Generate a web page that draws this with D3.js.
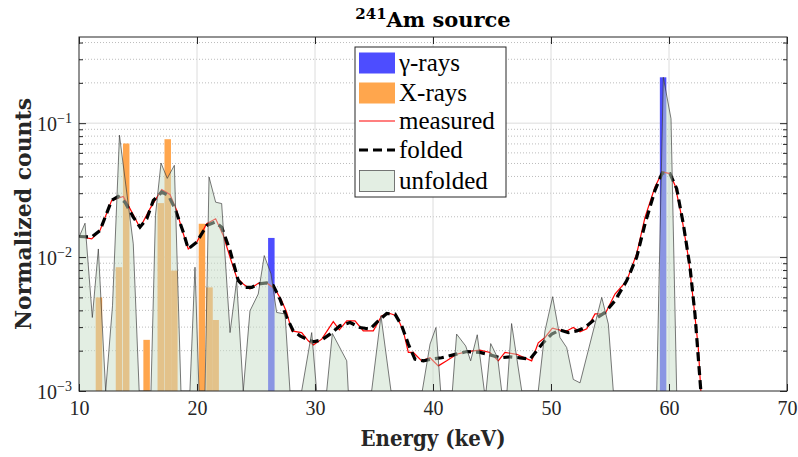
<!DOCTYPE html>
<html>
<head>
<meta charset="utf-8">
<title>241Am source</title>
<script src="https://d3js.org/d3.v7.min.js"></script>
<style>
  body { margin: 0; background: #fff; }
  svg { display: block; }
  .tick text { font-family: "Liberation Serif", serif; fill: #262626; }
</style>
</head>
<body>
<div id="chart"></div>
<script>
// unfolded spectrum (values of 1e-3 sit on the bottom of the plot)
var unfoldedE = [10.00, 10.51, 11.13, 11.64, 12.26, 12.84, 13.43, 14.60, 15.10, 16.10, 16.48, 16.95, 17.48, 18.08, 18.64,
  19.40, 19.83, 20.17, 20.68, 21.02, 21.58, 22.09, 22.80, 23.36, 23.92, 24.49, 25.19, 25.70, 26.27, 26.75, 27.46, 27.88,
  28.87, 29.72, 30.14, 30.99, 31.47, 32.69, 32.82, 34.80, 35.59, 36.44, 39.09, 39.75, 40.25, 40.65, 41.64, 42.00, 42.77,
  43.19, 43.75, 44.35, 44.50, 44.89, 45.48, 45.82, 46.27, 46.66, 47.52, 48.92, 49.49, 50.14, 50.76, 51.33, 51.89, 52.46,
  54.30, 54.86, 55.28, 58.96, 59.52, 60.17, 60.65];
var unfoldedV = [0.01406, 0.0179, 0.00354, 0.0115, 0.001, 0.00433, 0.0813, 0.01256, 0.001, 0.001, 0.0205, 0.0504, 0.0387, 0.0484, 0.001,
  0.001, 0.0084, 0.001, 0.001, 0.0396, 0.0257, 0.0251, 0.00273, 0.00667, 0.001, 0.00397, 0.0053, 0.01026, 0.0075, 0.00386, 0.00376, 0.001,
  0.001, 0.00273, 0.001, 0.001, 0.00269, 0.00168, 0.001, 0.001, 0.00365, 0.001, 0.001, 0.00224, 0.00298, 0.001, 0.001, 0.00266, 0.00217,
  0.00168, 0.00263, 0.001, 0.001, 0.00226, 0.00177, 0.001, 0.001, 0.00319, 0.001, 0.001, 0.00281, 0.00506, 0.00251, 0.00211, 0.00122, 0.00115,
  0.0050, 0.00316, 0.001, 0.001, 0.22, 0.108, 0.001];

// measured spectrum
var measuredE = [10.00, 11.08, 11.78, 12.77, 13.75, 14.32, 15.17, 16.02, 17.01, 17.71, 18.28, 18.70, 19.26, 19.97, 20.82,
  21.58, 22.23, 22.80, 23.36, 23.92, 24.49, 25.19, 25.91, 26.61, 27.18, 27.60, 28.03, 28.87, 29.43, 29.86, 30.57, 31.55,
  32.06, 32.69, 33.39, 34.09, 34.94, 35.65, 36.36, 36.92, 37.48, 37.91, 38.33, 39.04, 39.75, 40.45, 41.16, 42.01, 42.86,
  43.98, 44.83, 45.53, 46.10, 47.09, 48.36, 48.92, 49.49, 50.11, 50.76, 51.33, 51.89, 52.46, 53.03, 53.73, 54.58, 55.42,
  56.42, 57.26, 57.97, 58.81, 59.43, 60.08, 60.51, 61.08, 61.64, 62.06, 62.48, 62.71];
var measuredV = [0.01425, 0.01368, 0.0158, 0.0265, 0.0284, 0.0230, 0.01656, 0.0230, 0.0319, 0.0294, 0.0223, 0.01627, 0.0115, 0.0129, 0.01774,
  0.0193, 0.01449, 0.00997, 0.00706, 0.0063, 0.00578, 0.00637, 0.00641, 0.00578, 0.00472, 0.00386, 0.00281, 0.00273, 0.00237, 0.00221, 0.00244, 0.0033,
  0.00286, 0.00334, 0.00334, 0.00281, 0.00281, 0.00365, 0.00379, 0.00365, 0.00281, 0.00194, 0.00194, 0.00168, 0.00177, 0.00154, 0.00168, 0.00188, 0.00197,
  0.00202, 0.00194, 0.00168, 0.00194, 0.00188, 0.00168, 0.00229, 0.00251, 0.00295, 0.00285, 0.00281, 0.00298, 0.00277, 0.00291, 0.00376, 0.00376, 0.0053,
  0.00667, 0.01057, 0.0199, 0.0334, 0.0432, 0.042, 0.0343, 0.0199, 0.00997, 0.00472, 0.00211, 0.00097];

// folded spectrum
var foldedE = [10.00, 11.08, 11.78, 12.77, 13.33, 13.90, 14.60, 15.17, 15.74, 16.30, 17.01, 17.57, 18.14, 18.84, 19.26,
  19.97, 20.82, 21.53, 22.09, 22.80, 23.50, 24.07, 24.64, 25.19, 25.91, 26.47, 27.03, 27.60, 28.16, 28.73, 29.30, 29.86,
  30.57, 31.27, 32.12, 32.97, 33.81, 34.66, 35.36, 36.08, 36.78, 37.35, 37.91, 38.47, 39.18, 39.89, 40.73, 41.72, 42.86,
  43.98, 44.83, 45.68, 46.53, 47.37, 48.22, 48.79, 49.35, 50.06, 50.76, 51.47, 52.18, 52.88, 53.73, 54.58, 55.42, 56.42,
  57.26, 57.97, 58.81, 59.43, 60.08, 60.65, 61.21, 61.78, 62.20, 62.71];
var foldedV = [0.01425, 0.0141, 0.0158, 0.0265, 0.0284, 0.0257, 0.0199, 0.01673, 0.0193, 0.0265, 0.0306, 0.0289, 0.0230, 0.01534, 0.0115,
  0.0129, 0.01722, 0.01823, 0.01673, 0.0112, 0.00667, 0.00594, 0.00594, 0.0063, 0.00641, 0.00612, 0.00486, 0.00354, 0.00281, 0.00258, 0.00244, 0.00233,
  0.00241, 0.00266, 0.00307, 0.00325, 0.00298, 0.0029, 0.00334, 0.00379, 0.00375, 0.00307, 0.00224, 0.00173, 0.00168, 0.00173, 0.00177, 0.00186, 0.00197,
  0.00194, 0.00186, 0.00177, 0.0018, 0.00177, 0.00173, 0.0020, 0.0023, 0.00266, 0.00285, 0.00273, 0.00281, 0.00298, 0.00344, 0.00386, 0.00472, 0.00667,
  0.00997, 0.01774, 0.0315, 0.0425, 0.042, 0.0324, 0.01774, 0.0084, 0.00375, 0.00097];

// emission lines
var gammaE = [26.3, 59.5];
var gammaV = [0.0139, 0.22];
var xrayE = [11.69, 13.39, 14.0, 15.73, 16.93, 17.52, 18.08, 20.42, 21.06, 21.58];
var xrayV = [0.0050, 0.0084, 0.0705, 0.00241, 0.0253, 0.0759, 0.00793, 0.01774, 0.00594, 0.00339];
var barWidth = 0.55; // keV

var xTicks = [10, 20, 30, 40, 50, 60, 70];
var yTicks = [1e-3, 1e-2, 1e-1];
var yTickExp = ["\u22123", "\u22122", "\u22121"];
var legendLabels = ["\u03b3-rays", "X-rays", "measured", "folded", "unfolded"];

var width = 798, height = 457;
var margin = {top: 37, right: 11, bottom: 66, left: 79};
var x0 = margin.left, x1 = width - margin.right, y0 = height - margin.bottom, y1 = margin.top;

var x = d3.scaleLinear().domain([10, 70]).range([x0, x1]);
var y = d3.scaleLog().domain([1e-3, 0.44]).range([y0, y1]);

var svg = d3.select("#chart").append("svg")
  .attr("width", width)
  .attr("height", height);

svg.append("defs").append("clipPath").attr("id", "clip")
  .append("rect").attr("x", x0).attr("y", y1).attr("width", x1 - x0).attr("height", y0 - y1);

// minor and major grid
var minorY = y.ticks().filter(function (d) {
  var m = Math.round(d / Math.pow(10, Math.floor(Math.log10(d) + 1e-9)));
  return m !== 1;
});
svg.append("g").selectAll("line").data(minorY).enter().append("line")
  .attr("x1", x0).attr("x2", x1)
  .attr("y1", function (d) { return y(d); }).attr("y2", function (d) { return y(d); })
  .attr("stroke", "#bcbcbc").attr("stroke-width", 1).attr("stroke-dasharray", "1,2");
svg.append("g").selectAll("line").data(yTicks.slice(1)).enter().append("line")
  .attr("x1", x0).attr("x2", x1)
  .attr("y1", function (d) { return y(d); }).attr("y2", function (d) { return y(d); })
  .attr("stroke", "#dcdcdc").attr("stroke-width", 1);
svg.append("g").selectAll("line").data(xTicks.slice(1, -1)).enter().append("line")
  .attr("y1", y1).attr("y2", y0)
  .attr("x1", function (d) { return x(d); }).attr("x2", function (d) { return x(d); })
  .attr("stroke", "#dcdcdc").attr("stroke-width", 1);

var plot = svg.append("g").attr("clip-path", "url(#clip)");

// bars
function bars(E, V, color) {
  plot.append("g").selectAll("rect").data(E).enter().append("rect")
    .attr("x", function (d) { return x(d - barWidth / 2); })
    .attr("width", function (d) { return x(d + barWidth / 2) - x(d - barWidth / 2); })
    .attr("y", function (d, i) { return y(V[i]); })
    .attr("height", function (d, i) { return y0 - y(V[i]); })
    .attr("fill", color);
}
bars(xrayE, xrayV, "#ffa64d");
bars(gammaE, gammaV, "#4d4dff");

var line = d3.line()
  .x(function (d) { return x(d[0]); })
  .y(function (d) { return y(d[1]); });

plot.append("path")
  .attr("d", line(d3.zip(measuredE, measuredV)))
  .attr("fill", "none").attr("stroke", "#ff0000").attr("stroke-width", 1.2);

plot.append("path")
  .attr("d", line(d3.zip(foldedE, foldedV)))
  .attr("fill", "none").attr("stroke", "#000").attr("stroke-width", 3.2)
  .attr("stroke-dasharray", "9,5");

// unfolded on top, semi transparent
var unfolded = d3.zip(unfoldedE, unfoldedV);
var area = d3.area()
  .x(function (d) { return x(d[0]); })
  .y0(y0)
  .y1(function (d) { return y(Math.max(d[1], 1e-3)); });
plot.append("path")
  .attr("d", area(unfolded))
  .attr("fill", "rgb(200,222,200)").attr("fill-opacity", 0.5);
plot.append("path")
  .attr("d", line(unfolded.map(function (d) { return [d[0], Math.max(d[1], 1e-3)]; })))
  .attr("fill", "none").attr("stroke", "#3a3a3a").attr("stroke-opacity", 0.85).attr("stroke-width", 0.8);

// axes
var axisColor = "#262626";
function styleAxis(g) {
  g.select(".domain").remove();
  g.selectAll(".tick line").attr("stroke", axisColor);
}
svg.append("g").attr("transform", "translate(0," + y0 + ")")
  .call(d3.axisBottom(x).tickValues(xTicks).tickSize(-7).tickPadding(10).tickFormat(d3.format("d")))
  .call(styleAxis)
  .selectAll("text").attr("font-size", 20);
svg.append("g").attr("transform", "translate(0," + y1 + ")")
  .call(d3.axisTop(x).tickValues(xTicks).tickSize(-7).tickFormat(""))
  .call(styleAxis);

[[d3.axisLeft, x0], [d3.axisRight, x1]].forEach(function (a) {
  svg.append("g").attr("transform", "translate(" + a[1] + ",0)")
    .call(a[0](y).tickValues(yTicks).tickSize(-7).tickFormat(""))
    .call(styleAxis);
  svg.append("g").attr("transform", "translate(" + a[1] + ",0)")
    .call(a[0](y).tickValues(minorY).tickSize(-4).tickFormat(""))
    .call(styleAxis);
});

// y tick labels with exponents
var yl = svg.append("g").selectAll("text").data(yTicks).enter().append("text")
  .attr("x", x0 - 7)
  .attr("y", function (d) { return y(d) + 8; })
  .attr("text-anchor", "end")
  .attr("font-family", "Liberation Serif, serif")
  .attr("fill", axisColor);
yl.append("tspan").attr("font-size", 20).text("10");
yl.append("tspan").attr("font-size", 14).attr("dy", -8)
  .text(function (d, i) { return yTickExp[i]; });

svg.append("rect")
  .attr("x", x0).attr("y", y1).attr("width", x1 - x0).attr("height", y0 - y1)
  .attr("fill", "none").attr("stroke", axisColor).attr("stroke-width", 1);

// titles
var title = svg.append("text")
  .attr("x", (x0 + x1) / 2).attr("y", 27)
  .attr("text-anchor", "middle")
  .attr("font-family", "DejaVu Serif, serif").attr("font-weight", "bold")
  .attr("fill", "#000");
title.append("tspan").attr("font-size", 15).attr("dy", -8).text("241");
title.append("tspan").attr("font-size", 21).attr("dy", 8).text("Am source");

svg.append("text")
  .attr("x", (x0 + x1) / 2).attr("y", 446)
  .attr("text-anchor", "middle")
  .attr("font-family", "DejaVu Serif, serif").attr("font-weight", "bold")
  .attr("font-size", 23)
  .attr("textLength", 145).attr("lengthAdjust", "spacingAndGlyphs")
  .attr("fill", "#262626")
  .text("Energy (keV)");

svg.append("text")
  .attr("transform", "translate(31," + ((y0 + y1) / 2) + ") rotate(-90)")
  .attr("text-anchor", "middle")
  .attr("font-family", "DejaVu Serif, serif").attr("font-weight", "bold")
  .attr("font-size", 23)
  .attr("textLength", 232).attr("lengthAdjust", "spacingAndGlyphs")
  .attr("fill", "#262626")
  .text("Normalized counts");

// legend
var lg = svg.append("g").attr("transform", "translate(355,47)");
lg.append("rect").attr("width", 151).attr("height", 150)
  .attr("fill", "#fff").attr("stroke", axisColor).attr("stroke-width", 1);
var rowY = [16, 46, 74, 103, 134];
var item = lg.selectAll("g.item").data(legendLabels).enter().append("g")
  .attr("transform", function (d, i) { return "translate(0," + rowY[i] + ")"; });
item.append("text")
  .attr("x", 44).attr("y", 8)
  .attr("font-family", "Liberation Serif, serif").attr("font-size", 25)
  .attr("fill", "#000")
  .text(function (d) { return d; });
lg.append("rect").attr("x", 4).attr("y", rowY[0] - 10.5).attr("width", 36).attr("height", 21).attr("fill", "#4d4dff");
lg.append("rect").attr("x", 4).attr("y", rowY[1] - 10.5).attr("width", 36).attr("height", 21).attr("fill", "#ffa64d");
lg.append("line").attr("x1", 4).attr("x2", 40).attr("y1", rowY[2]).attr("y2", rowY[2])
  .attr("stroke", "#ff0000").attr("stroke-width", 1.2);
lg.append("line").attr("x1", 4).attr("x2", 40).attr("y1", rowY[3]).attr("y2", rowY[3])
  .attr("stroke", "#000").attr("stroke-width", 3.2).attr("stroke-dasharray", "9,5");
lg.append("rect").attr("x", 4.5).attr("y", rowY[4] - 10.5).attr("width", 35).attr("height", 21)
  .attr("fill", "rgb(200,222,200)").attr("fill-opacity", 0.5)
  .attr("stroke", "#3a3a3a").attr("stroke-opacity", 0.85).attr("stroke-width", 0.8);
</script>
</body>
</html>
